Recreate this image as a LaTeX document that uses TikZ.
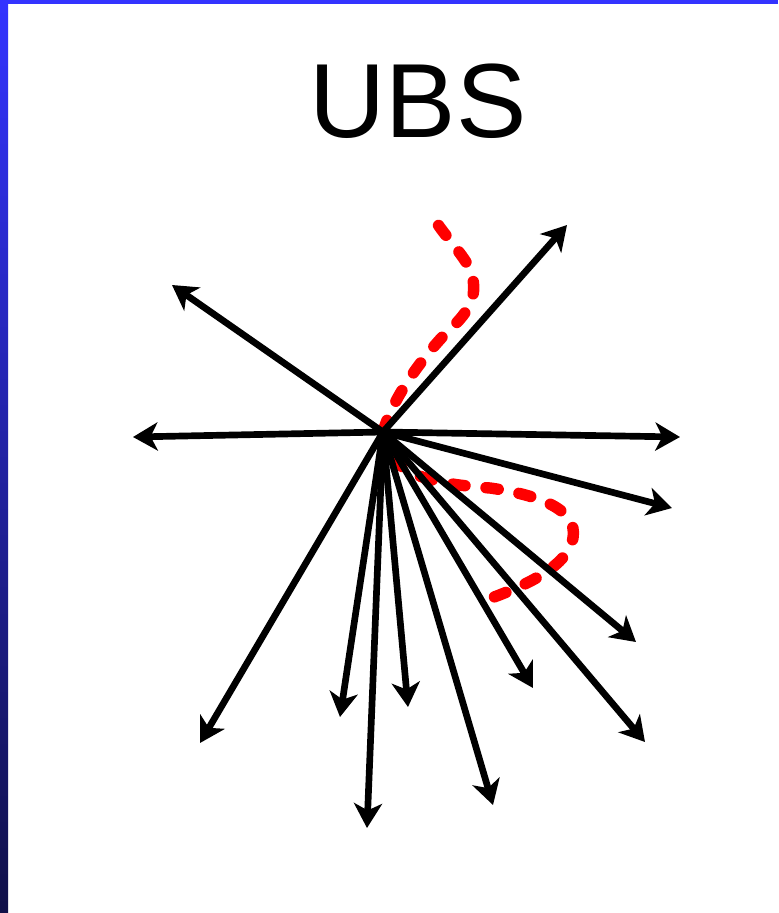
\documentclass[tikz,border=0pt]{standalone}
\usepackage{fontspec}
\setmainfont{Liberation Sans}
\usepackage{tikz}
\usetikzlibrary{arrows.meta,positioning,calc}

\definecolor{frameblue}{RGB}{51,51,255}
\definecolor{framedark}{RGB}{16,16,72}
\definecolor{trailred}{RGB}{255,0,0}

\tikzset{
  ray/.style={line width=3.8pt, -{Stealth[length=14pt,width=16pt,inset=4pt]}},
  trail/.style={trailred, line width=6.5pt, line cap=round, dash pattern=on 7pt off 12pt}
}

\begin{document}
\begin{tikzpicture}[x=0.02cm,y=-0.02cm]
  \useasboundingbox (0,0) rectangle (778,913);
  \fill[white] (0,0) rectangle (778,913);
  % frame
  \shade[top color=frameblue, bottom color=framedark] (0,0) rectangle (8,913);
  \fill[frameblue] (0,0) rectangle (778,4);

  % title
  \node[font=\fontsize{60}{60}\selectfont] (title) at (418,101) {UBS};

  % hub and ray ends
  \coordinate (hub) at (383,432);
  \coordinate (e1) at (567,225);
  \coordinate (e2) at (172,285);
  \coordinate (e3) at (133,437);
  \coordinate (e4) at (680,437);
  \coordinate (e5) at (672,508);
  \coordinate (e6) at (636,642);
  \coordinate (e7) at (645,742);
  \coordinate (e8) at (533,688);
  \coordinate (e9) at (493,805);
  \coordinate (e10) at (408,707);
  \coordinate (e11) at (340,717);
  \coordinate (e12) at (367,828);
  \coordinate (e13) at (200,743);

  % particle trails
  \draw[trail] (hub) .. controls (392,400) and (420,360) .. (447,332)
    .. controls (472,310) and (482,290) .. (466,262)
    .. controls (455,245) and (440,230) .. (432,215);
  \draw[trail] (393,458) .. controls (410,480) and (450,485) .. (490,488)
    .. controls (540,495) and (578,510) .. (573,538)
    .. controls (568,565) and (530,585) .. (480,602);

  % rays
  \draw[ray] (hub) -- (e1);
  \draw[ray] (hub) -- (e2);
  \draw[ray] (hub) -- (e3);
  \draw[ray] (hub) -- (e4);
  \draw[ray] (hub) -- (e5);
  \draw[ray] (hub) -- (e6);
  \draw[ray] (hub) -- (e7);
  \draw[ray] (hub) -- (e8);
  \draw[ray] (hub) -- (e9);
  \draw[ray] (hub) -- (e10);
  \draw[ray] (hub) -- (e11);
  \draw[ray] (hub) -- (e12);
  \draw[ray] (hub) -- (e13);
\end{tikzpicture}
\end{document}
